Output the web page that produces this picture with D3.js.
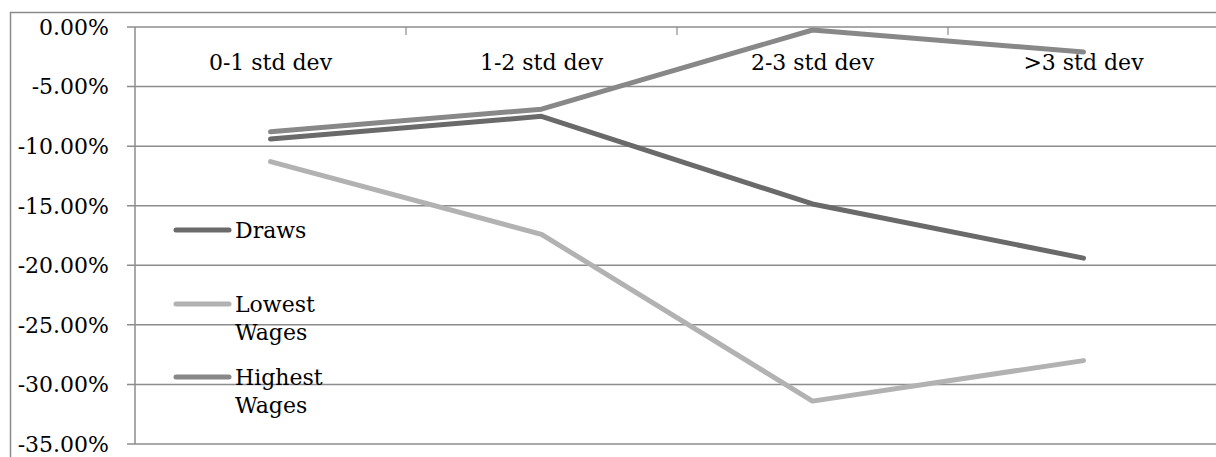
<!DOCTYPE html>
<html>
<head>
<meta charset="utf-8">
<script src="https://cdn.jsdelivr.net/npm/d3@7"></script>
<style>
  html, body { margin: 0; padding: 0; background: #fff; }
  svg { display: block; }
  text { font-family: "DejaVu Serif", "Liberation Serif", serif; fill: #000; }
</style>
</head>
<body>
<svg id="chart" width="1216" height="457"></svg>
<script>
// Category labels along the top axis
const categories = ["0-1 std dev", "1-2 std dev", "2-3 std dev", ">3 std dev"];

// Series values (percent change)
const draws = [-9.4, -7.5, -14.85, -19.4];
const lowestWages = [-11.3, -17.4, -31.4, -28.0];
const highestWages = [-8.8, -6.9, -0.25, -2.1];

// Value axis ticks
const yTicks = [0, -5, -10, -15, -20, -25, -30, -35];

const seriesNames = ["Draws", "Lowest Wages", "Highest Wages"];
const seriesValues = [draws, lowestWages, highestWages];
const seriesColors = ["#6a6a6a", "#b2b2b2", "#888888"];

const svg = d3.select("#chart");
const gridColor = "#8c8c8c";
const fontSize = 22;

// Chart area border
svg.append("rect")
  .attr("x", 10.5).attr("y", 12.5)
  .attr("width", 1230).attr("height", 460)
  .attr("fill", "none").attr("stroke", "#8a8a8a").attr("stroke-width", 1.5);

const plot = { left: 135, right: 1219, top: 27, bottom: 444 };

const x = d3.scaleBand().domain(categories)
  .range([plot.left, plot.right]).paddingInner(0).paddingOuter(0);
const y = d3.scaleLinear().domain([0, -35]).range([plot.top, plot.bottom]);

// Percent labels with a plain hyphen for the sign
const fmtPct = d => d3.format(".2f")(d).replace("\u2212", "-") + "%";

// Horizontal gridlines (with small tick stubs to the left of the axis)
svg.append("g").selectAll("line").data(yTicks).join("line")
  .attr("x1", plot.left - 8).attr("x2", plot.right)
  .attr("y1", d => y(d)).attr("y2", d => y(d))
  .attr("stroke", gridColor).attr("stroke-width", 1.5);

// Vertical value axis
svg.append("line")
  .attr("x1", plot.left).attr("x2", plot.left)
  .attr("y1", plot.top).attr("y2", plot.bottom)
  .attr("stroke", gridColor).attr("stroke-width", 1.5);

// Value tick labels
svg.append("g").selectAll("text").data(yTicks).join("text")
  .attr("x", 109).attr("y", d => y(d))
  .attr("dy", "0.36em")
  .attr("text-anchor", "end")
  .attr("font-size", fontSize)
  .text(fmtPct);

// Category tick marks on the zero line
const catBounds = categories.map(c => x(c)).slice(1).concat([plot.right]);
svg.append("g").selectAll("line").data(catBounds).join("line")
  .attr("x1", d => d).attr("x2", d => d)
  .attr("y1", y(0)).attr("y2", y(0) + 8)
  .attr("stroke", gridColor).attr("stroke-width", 1.2);

// Category labels below the zero line
svg.append("g").selectAll("text").data(categories).join("text")
  .attr("x", d => x(d) + x.bandwidth() / 2)
  .attr("y", 70)
  .attr("text-anchor", "middle")
  .attr("font-size", fontSize)
  .text(d => d);

// Series lines
const line = d3.line()
  .x((d, i) => x(categories[i]) + x.bandwidth() / 2)
  .y(d => y(d));

seriesValues.forEach((vals, i) => {
  svg.append("path")
    .datum(vals)
    .attr("d", line)
    .attr("fill", "none")
    .attr("stroke", seriesColors[i])
    .attr("stroke-width", 5)
    .attr("stroke-linecap", "round")
    .attr("stroke-linejoin", "round");
});

// Legend
const legendY = [230, 304, 377];
const legend = svg.append("g");
seriesNames.forEach((name, i) => {
  legend.append("line")
    .attr("x1", 176).attr("x2", 229)
    .attr("y1", legendY[i]).attr("y2", legendY[i])
    .attr("stroke", seriesColors[i]).attr("stroke-width", 5)
    .attr("stroke-linecap", "round");
  const words = name.split(" ");
  const t = legend.append("text")
    .attr("x", 235).attr("y", legendY[i])
    .attr("font-size", fontSize);
  words.forEach((w, j) => {
    t.append("tspan").attr("x", 235).attr("dy", j === 0 ? "0.36em" : 28).text(w);
  });
});
</script>
</body>
</html>
